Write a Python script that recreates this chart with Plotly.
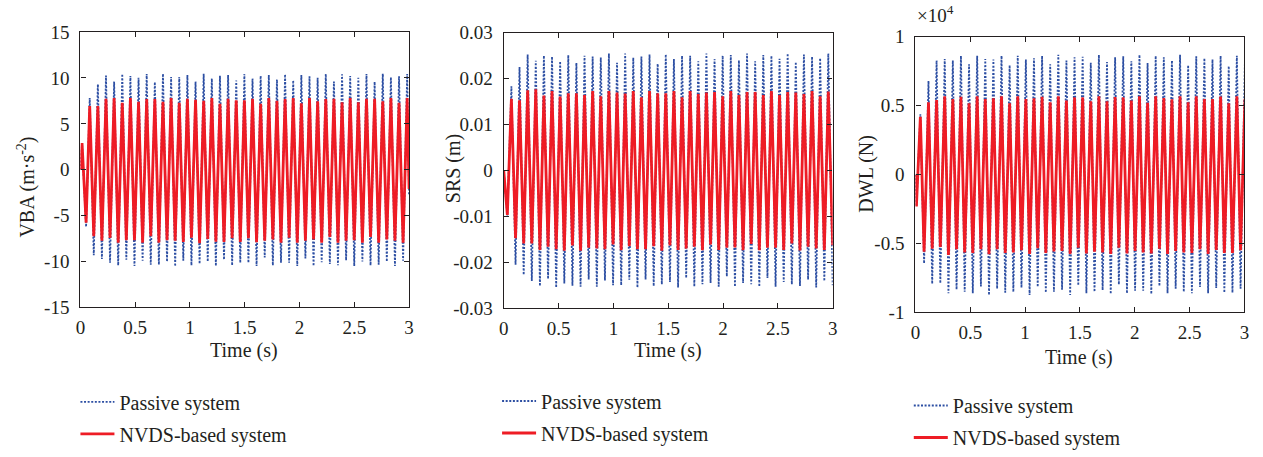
import plotly.graph_objects as go

W, H = 1263, 457
FONT = "Liberation Serif, 'Times New Roman', 'DejaVu Serif', serif"
TXT = "#231f20"
BLUE = "#2d4fa3"
RED = "#ee1c25"

# ---------------- time grid (extreme points of the oscillation) ----------------
time_ticks = [0, 0.5, 1, 1.5, 2, 2.5, 3]
time_ticktext = ["0", "0.5", "1", "1.5", "2", "2.5", "3"]

# ---------------- VBA (m/s^2) ----------------
vba_period = 0.0743
vba_start_t = [0.0, 0.015]
vba_start_v = [0.0, 2.9]
vba_first_trough_t = 0.052
vba_second_trough_t = 0.122
vba_first_peak_t = 0.085
vba_end_t = 3.0
vba_end_passive = -2.8
vba_end_nvds = -2.1
vba_peaks_passive = [7.8, 9.31, 10.25, 9.62, 10.43, 10.22, 10.01, 10.43, 9.55, 10.46,
                     10.11, 10.11, 10.32, 9.62, 10.46, 9.94, 10.25, 10.32, 9.73, 10.43,
                     9.94, 10.22, 10.32, 9.83, 10.39, 9.73, 10.32, 10.18, 10.01, 10.43,
                     9.62, 10.39, 10.22, 10.01, 10.43, 9.59, 10.46, 10.07, 10.18, 10.43]
vba_troughs_passive = [-6.22, -9.31, -9.72, -10.13, -10.41, -9.79, -10.48, -9.9, -10.34, -10.34,
                       -10.0, -10.52, -9.9, -10.41, -10.24, -10.0, -10.48, -9.79, -10.41, -10.13,
                       -10.13, -10.48, -9.55, -10.41, -10.13, -10.13, -10.48, -9.66, -10.48, -10.07,
                       -10.27, -10.41, -9.86, -10.48, -10.0, -10.41, -10.34, -10.0, -10.48, -9.9]
vba_peaks_nvds = [6.93, 6.93, 7.73, 7.8, 7.28, 7.8, 7.39, 7.70, 7.70, 7.39,
                  7.8, 7.28, 7.73, 7.63, 7.52, 7.8, 7.18, 7.73, 7.56, 7.56,
                  7.73, 7.18, 7.8, 7.52, 7.70, 7.8, 7.24, 7.8, 7.45, 7.70,
                  7.73, 7.35, 7.8, 7.35, 7.73, 7.73, 7.45, 7.8, 7.28, 7.8]
vba_troughs_nvds = [-5.77, -7.25, -7.73, -7.42, -7.94, -7.66, -7.66, -7.94, -7.25, -7.94,
                    -7.66, -7.73, -7.87, -7.39, -8.01, -7.53, -7.84, -7.87, -7.46, -7.87,
                    -7.46, -7.9, -7.73, -7.6, -7.94, -7.39, -7.94, -7.73, -7.6, -7.94,
                    -7.32, -7.94, -7.73, -7.66, -7.94, -7.32, -7.94, -7.6, -7.73, -7.94]

# ---------------- SRS (m) ----------------
srs_period = 0.0741
srs_start_t = [0.0]
srs_start_v = [0.0]
srs_first_trough_t = 0.033
srs_second_trough_t = 0.108
srs_first_peak_t = 0.070
srs_end_t = 3.0
srs_end_passive = -0.025
srs_end_nvds = -0.0163
srs_peaks_passive = [0.01833, 0.02255, 0.02527, 0.0239, 0.025, 0.0248, 0.02378, 0.02512, 0.02343, 0.025,
                     0.0248, 0.0246, 0.02547, 0.02343, 0.02547, 0.0246, 0.0248, 0.02527, 0.02322, 0.02527,
                     0.02425, 0.025, 0.025, 0.02378, 0.02547, 0.02425, 0.025, 0.02512, 0.02397, 0.02547,
                     0.02378, 0.02512, 0.025, 0.0243, 0.02547, 0.02363, 0.02527, 0.0248, 0.02445, 0.02547]
srs_troughs_passive = [-0.0098, -0.02055, -0.02273, -0.02408, -0.02517, -0.02361, -0.0255, -0.02463, -0.0251, -0.0253,
                       -0.02375, -0.0253, -0.02395, -0.02497, -0.02497, -0.02381, -0.0255, -0.02375, -0.02517, -0.02483,
                       -0.02428, -0.0255, -0.02341, -0.0253, -0.02476, -0.02449, -0.0253, -0.02306, -0.0253, -0.02449,
                       -0.02476, -0.0253, -0.02341, -0.0253, -0.02428, -0.02483, -0.02517, -0.02375, -0.0255, -0.02408]
srs_peaks_nvds = [0.01561, 0.01527, 0.01745, 0.01765, 0.01629, 0.0173, 0.01608, 0.01683, 0.01683, 0.01643,
                  0.0173, 0.01615, 0.0173, 0.01697, 0.01676, 0.0173, 0.01594, 0.0173, 0.01683, 0.01683,
                  0.0173, 0.01594, 0.0173, 0.01663, 0.01697, 0.0171, 0.01615, 0.0173, 0.01643, 0.0171,
                  0.0171, 0.01643, 0.0173, 0.01643, 0.0171, 0.01697, 0.01663, 0.0173, 0.01615, 0.01717]
srs_troughs_nvds = [-0.00967, -0.01477, -0.01592, -0.01592, -0.01729, -0.01661, -0.01714, -0.01749, -0.01633, -0.01749,
                    -0.01681, -0.01701, -0.01714, -0.01613, -0.01735, -0.01647, -0.01714, -0.01714, -0.01647, -0.01749,
                    -0.01633, -0.01729, -0.01701, -0.01661, -0.01735, -0.01613, -0.01729, -0.01681, -0.01674, -0.01735,
                    -0.016, -0.01735, -0.01681, -0.01681, -0.01729, -0.01592, -0.01742, -0.01661, -0.01701, -0.01729]

# ---------------- DWL (N) ----------------
dwl_period = 0.0740
dwl_start_t = [0.0, 0.009]
dwl_start_v = [0.0, -2300]
dwl_first_peak_t = 0.045
dwl_first_trough_t = 0.079
dwl_peaks_passive = [4380, 6790, 8280, 8390, 8280, 8620, 8000, 8620, 8390, 8350,
                     8620, 7940, 8620, 8350, 8440, 8620, 8000, 8690, 8280, 8510,
                     8550, 8120, 8690, 8160, 8510, 8580, 8230, 8690, 8100, 8620,
                     8510, 8280, 8690, 7940, 8580, 8440, 8350, 8620, 7870, 8620, 8350]
dwl_troughs_passive = [-6440, -7920, -7880, -8610, -8340, -8500, -8610, -8110, -8730, -8270,
                       -8560, -8500, -8200, -8730, -8150, -8560, -8500, -8340, -8730, -8040,
                       -8610, -8500, -8380, -8660, -7970, -8610, -8420, -8420, -8660, -8080,
                       -8610, -8270, -8500, -8610, -8150, -8610, -8220, -8560, -8560, -8270]
dwl_peaks_nvds = [4200, 5250, 5410, 5690, 5480, 5640, 5180, 5690, 5480, 5530,
                  5690, 5180, 5690, 5480, 5530, 5640, 5250, 5690, 5370, 5600,
                  5600, 5320, 5690, 5320, 5620, 5600, 5370, 5690, 5210, 5690,
                  5550, 5460, 5690, 5250, 5690, 5480, 5480, 5670, 5180, 5690, 5480]
dwl_troughs_nvds = [-5600, -5370, -5250, -5820, -5410, -5640, -5690, -5410, -5780, -5410,
                    -5690, -5640, -5480, -5750, -5340, -5690, -5570, -5530, -5750, -5300,
                    -5710, -5600, -5640, -5750, -5300, -5710, -5530, -5640, -5710, -5370,
                    -5750, -5530, -5640, -5690, -5410, -5750, -5460, -5690, -5690, -5480]


def series(start_t, start_v, peak_t, peak_v, trough_t, trough_v, end_t=None, end_v=None):
    pts = list(zip(peak_t, peak_v)) + list(zip(trough_t, trough_v))
    pts.sort(key=lambda p: p[0])
    t = list(start_t) + [p[0] for p in pts]
    v = list(start_v) + [p[1] for p in pts]
    if end_t is not None:
        t.append(end_t)
        v.append(end_v)
    return t, v


# extreme times
vba_pk_t = [vba_first_peak_t + vba_period * i for i in range(len(vba_peaks_nvds))]
vba_tr_t = [vba_first_trough_t] + [vba_second_trough_t + vba_period * k for k in range(len(vba_troughs_nvds) - 1)]
srs_pk_t = [srs_first_peak_t + srs_period * i for i in range(len(srs_peaks_nvds))]
srs_tr_t = [srs_first_trough_t] + [srs_second_trough_t + srs_period * k for k in range(len(srs_troughs_nvds) - 1)]
dwl_pk_t = [dwl_first_peak_t + dwl_period * i for i in range(len(dwl_peaks_nvds))]
dwl_tr_t = [dwl_first_trough_t + dwl_period * k for k in range(len(dwl_troughs_nvds))]

panels = [
    (series(vba_start_t, vba_start_v, vba_pk_t, vba_peaks_passive, vba_tr_t, vba_troughs_passive, vba_end_t, vba_end_passive),
     series(vba_start_t, vba_start_v, vba_pk_t, vba_peaks_nvds, vba_tr_t, vba_troughs_nvds, vba_end_t, vba_end_nvds), 1.0),
    (series(srs_start_t, srs_start_v, srs_pk_t, srs_peaks_passive, srs_tr_t, srs_troughs_passive, srs_end_t, srs_end_passive),
     series(srs_start_t, srs_start_v, srs_pk_t, srs_peaks_nvds, srs_tr_t, srs_troughs_nvds, srs_end_t, srs_end_nvds), 1.0),
    (series(dwl_start_t, dwl_start_v, dwl_pk_t, dwl_peaks_passive, dwl_tr_t, dwl_troughs_passive),
     series(dwl_start_t, dwl_start_v, dwl_pk_t, dwl_peaks_nvds, dwl_tr_t, dwl_troughs_nvds), 1e-4),
]

fig = go.Figure()
legend_names = ["legend", "legend2", "legend3"]
for i, (pas, nv, scale) in enumerate(panels):
    ax = "" if i == 0 else str(i + 1)
    fig.add_trace(go.Scatter(x=pas[0], y=[v * scale for v in pas[1]], mode="lines",
                             name="Passive system", legend=legend_names[i], legendgroup="p%d" % i,
                             line=dict(color=BLUE, width=1.8, dash="2px,1.6px"),
                             xaxis="x" + ax, yaxis="y" + ax, hoverinfo="skip"))
    fig.add_trace(go.Scatter(x=nv[0], y=[v * scale for v in nv[1]], mode="lines",
                             name="NVDS-based system", legend=legend_names[i], legendgroup="n%d" % i,
                             line=dict(color=RED, width=2.8),
                             xaxis="x" + ax, yaxis="y" + ax, hoverinfo="skip"))

# panel geometry in pixels: (left, right, top, bottom)
geo = [(76, 407.3, 23.3, 314.7), (502.7, 834.3, 24, 315.5), (917.7, 1249.3, 28.3, 320)]

yticks = [
    ([-15, -10, -5, 0, 5, 10, 15], ["-15", "-10", "-5", "0", "5", "10", "15"], [-15, 15]),
    ([-0.03, -0.02, -0.01, 0, 0.01, 0.02, 0.03], ["-0.03", "-0.02", "-0.01", "0", "0.01", "0.02", "0.03"], [-0.03, 0.03]),
    ([-1, -0.5, 0, 0.5, 1], ["-1", "-0.5", "0", "0.5", "1"], [-1, 1]),
]

axis_common = dict(showline=True, linecolor="#231f20", linewidth=1.4, mirror="ticks",
                   ticks="inside", ticklen=5, tickwidth=1, tickcolor="#231f20",
                   showgrid=False, zeroline=False,
                   tickfont=dict(family=FONT, size=19, color=TXT))

layout = dict(width=W, height=H, margin=dict(l=0, r=0, t=0, b=0),
              paper_bgcolor="white", plot_bgcolor="white", showlegend=True)

for i, (l, r, t, b) in enumerate(geo):
    ax = "" if i == 0 else str(i + 1)
    layout["xaxis" + ax] = dict(axis_common, domain=[l / W, r / W], range=[0, 3],
                                tickvals=time_ticks, ticktext=time_ticktext,
                                anchor="y" + ax, ticklabelstandoff=3)
    tv, tt, rg = yticks[i]
    layout["yaxis" + ax] = dict(axis_common, domain=[1 - b / H, 1 - t / H], range=rg,
                                tickvals=tv, ticktext=tt, anchor="x" + ax,
                                ticklabelstandoff=6)

legend_pos = [(71, 394), (496, 393), (911, 398)]
for i, (lx, ly) in enumerate(legend_pos):
    layout[legend_names[i]] = dict(x=lx / W, y=1 - ly / H, xanchor="left", yanchor="top",
                                   font=dict(family=FONT, size=20, color=TXT),
                                   bgcolor="rgba(0,0,0,0)", borderwidth=0,
                                   traceorder="grouped", tracegroupgap=3, itemwidth=34)

fig.update_layout(**layout)

ann = []
# x titles
for cx, cy in [(241, 360), (668, 360), (1083, 368)]:
    ann.append(dict(text="Time (s)", x=cx / W, y=1 - cy / H, xref="paper", yref="paper",
                    showarrow=False, xanchor="center", yanchor="middle",
                    font=dict(family=FONT, size=20, color=TXT)))
# y titles
for txt, cx, cy in [("VBA (m·s<sup>-2</sup>)", 22, 187), ("SRS (m)", 452, 168), ("DWL (N)", 868, 173)]:
    ann.append(dict(text=txt, x=cx / W, y=1 - cy / H, xref="paper", yref="paper",
                    showarrow=False, xanchor="center", yanchor="middle", textangle=-90,
                    font=dict(family=FONT, size=20, color=TXT)))
ann.append(dict(text="×10<sup>4</sup>", x=917 / W, y=1 - 4 / H, xref="paper", yref="paper",
                showarrow=False, xanchor="left", yanchor="middle",
                font=dict(family=FONT, size=19, color=TXT)))
fig.update_layout(annotations=ann)

fig.write_html("out.html")
